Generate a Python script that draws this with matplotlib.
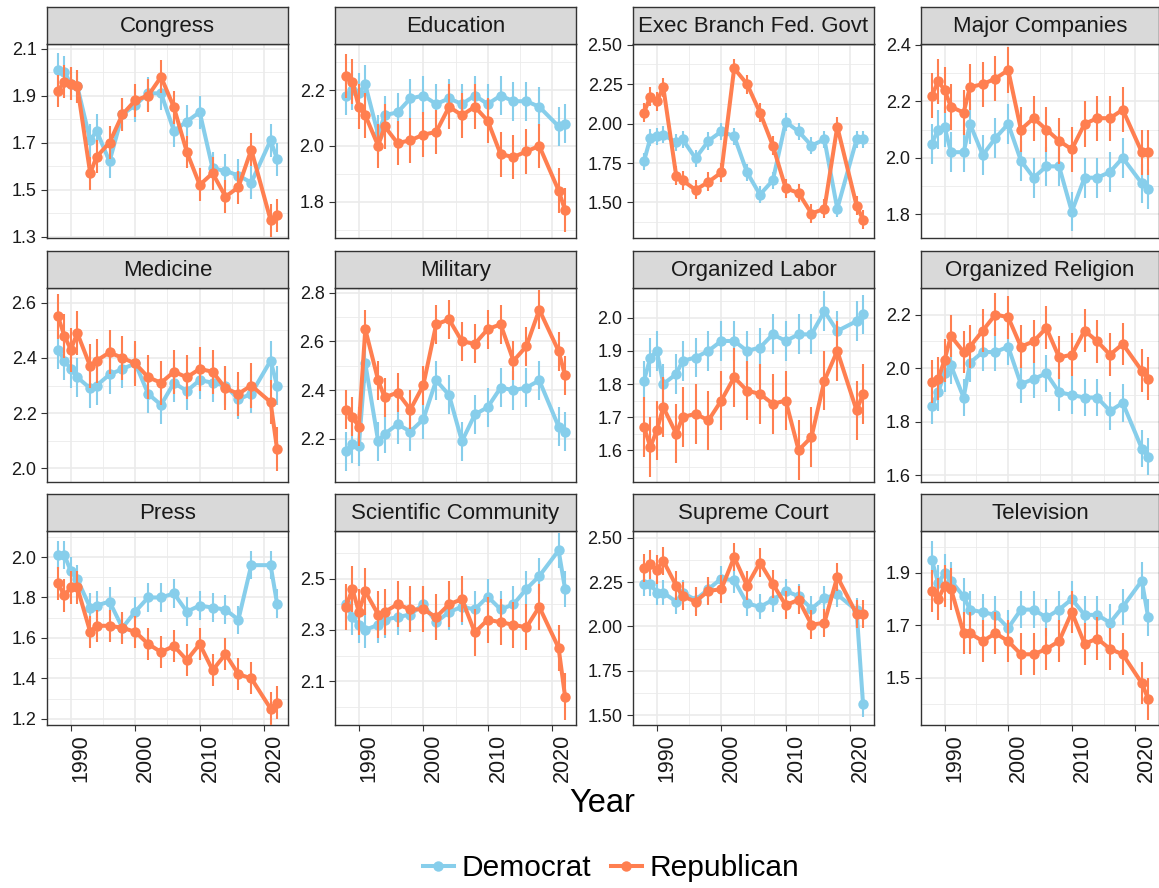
import matplotlib
matplotlib.use("Agg")
import matplotlib.pyplot as plt
from matplotlib.lines import Line2D
import numpy as np

plt.rcParams['font.family'] = ['Liberation Sans', 'DejaVu Sans']

years = [1988, 1989, 1990, 1991, 1993, 1994, 1996, 1998, 2000, 2002,
         2004, 2006, 2008, 2010, 2012, 2014, 2016, 2018, 2021, 2022]

# Mean confidence by party (Democrat / Republican)
congress_dem = [2.01, 2.00, 1.95, 1.94, 1.71, 1.75, 1.62, 1.82, 1.86, 1.91,
                1.91, 1.75, 1.79, 1.83, 1.59, 1.58, 1.56, 1.53, 1.71, 1.63]
congress_rep = [1.92, 1.96, 1.95, 1.94, 1.57, 1.64, 1.70, 1.82, 1.88, 1.90,
                1.98, 1.85, 1.66, 1.52, 1.57, 1.47, 1.51, 1.67, 1.37, 1.39]
education_dem = [2.18, 2.20, 2.19, 2.22, 2.04, 2.11, 2.12, 2.17, 2.18, 2.15,
                 2.17, 2.15, 2.18, 2.15, 2.18, 2.16, 2.16, 2.14, 2.07, 2.08]
education_rep = [2.25, 2.23, 2.14, 2.11, 2.00, 2.07, 2.01, 2.02, 2.04, 2.05,
                 2.14, 2.11, 2.14, 2.09, 1.97, 1.96, 1.98, 2.00, 1.84, 1.77]
exec_dem = [1.76, 1.91, 1.92, 1.93, 1.88, 1.90, 1.78, 1.89, 1.95, 1.92,
            1.69, 1.55, 1.64, 2.01, 1.95, 1.86, 1.90, 1.46, 1.90, 1.90]
exec_rep = [2.07, 2.17, 2.14, 2.23, 1.67, 1.64, 1.58, 1.63, 1.69, 2.35,
            2.25, 2.07, 1.86, 1.59, 1.56, 1.43, 1.46, 1.98, 1.48, 1.39]
companies_dem = [2.05, 2.10, 2.11, 2.02, 2.02, 2.12, 2.01, 2.07, 2.12, 1.99,
                 1.93, 1.97, 1.97, 1.81, 1.93, 1.93, 1.95, 2.00, 1.91, 1.89]
companies_rep = [2.22, 2.27, 2.24, 2.18, 2.16, 2.25, 2.26, 2.28, 2.31, 2.10,
                 2.14, 2.10, 2.06, 2.03, 2.12, 2.14, 2.14, 2.17, 2.02, 2.02]
medicine_dem = [2.43, 2.39, 2.36, 2.33, 2.29, 2.30, 2.34, 2.36, 2.38, 2.27,
                2.23, 2.31, 2.28, 2.32, 2.31, 2.30, 2.25, 2.27, 2.39, 2.30]
medicine_rep = [2.55, 2.48, 2.43, 2.49, 2.37, 2.39, 2.42, 2.40, 2.38, 2.33,
                2.31, 2.35, 2.33, 2.36, 2.35, 2.29, 2.27, 2.30, 2.24, 2.07]
military_dem = [2.15, 2.18, 2.17, 2.51, 2.19, 2.22, 2.26, 2.23, 2.28, 2.44,
                2.38, 2.19, 2.30, 2.33, 2.41, 2.40, 2.41, 2.44, 2.25, 2.23]
military_rep = [2.32, 2.29, 2.25, 2.65, 2.44, 2.37, 2.39, 2.32, 2.42, 2.67,
                2.69, 2.60, 2.59, 2.65, 2.67, 2.52, 2.58, 2.73, 2.56, 2.46]
labor_dem = [1.81, 1.88, 1.90, 1.80, 1.83, 1.87, 1.88, 1.90, 1.93, 1.93,
             1.90, 1.91, 1.95, 1.93, 1.95, 1.95, 2.02, 1.96, 1.99, 2.01]
labor_rep = [1.67, 1.61, 1.66, 1.73, 1.65, 1.70, 1.71, 1.69, 1.75, 1.82,
             1.78, 1.77, 1.74, 1.75, 1.60, 1.64, 1.81, 1.90, 1.72, 1.77]
religion_dem = [1.86, 1.91, 1.98, 2.01, 1.89, 2.02, 2.06, 2.06, 2.08, 1.94,
                1.96, 1.98, 1.91, 1.90, 1.89, 1.89, 1.84, 1.87, 1.70, 1.67]
religion_rep = [1.95, 1.96, 2.03, 2.12, 2.06, 2.08, 2.14, 2.20, 2.19, 2.08,
                2.10, 2.15, 2.04, 2.05, 2.14, 2.10, 2.05, 2.09, 1.99, 1.96]
press_dem = [2.01, 2.01, 1.93, 1.89, 1.75, 1.76, 1.78, 1.65, 1.73, 1.80,
             1.80, 1.82, 1.73, 1.76, 1.75, 1.74, 1.69, 1.96, 1.96, 1.77]
press_rep = [1.87, 1.81, 1.85, 1.85, 1.63, 1.66, 1.66, 1.65, 1.63, 1.57,
             1.53, 1.56, 1.49, 1.57, 1.44, 1.52, 1.42, 1.40, 1.25, 1.28]
science_dem = [2.40, 2.35, 2.32, 2.30, 2.32, 2.34, 2.35, 2.36, 2.40, 2.33,
               2.37, 2.39, 2.38, 2.43, 2.38, 2.40, 2.46, 2.51, 2.61, 2.46]
science_rep = [2.39, 2.46, 2.37, 2.45, 2.36, 2.37, 2.40, 2.38, 2.38, 2.35,
               2.40, 2.42, 2.29, 2.34, 2.33, 2.32, 2.31, 2.39, 2.23, 2.04]
court_dem = [2.24, 2.24, 2.19, 2.19, 2.14, 2.19, 2.15, 2.21, 2.27, 2.26,
             2.13, 2.11, 2.15, 2.20, 2.17, 2.10, 2.16, 2.18, 2.09, 1.56]
court_rep = [2.33, 2.35, 2.32, 2.37, 2.23, 2.17, 2.14, 2.20, 2.21, 2.39,
             2.23, 2.36, 2.24, 2.12, 2.15, 2.01, 2.02, 2.28, 2.07, 2.07]
tv_dem = [1.95, 1.86, 1.90, 1.87, 1.81, 1.76, 1.75, 1.74, 1.69, 1.76,
          1.76, 1.73, 1.76, 1.80, 1.74, 1.74, 1.71, 1.77, 1.87, 1.73]
tv_rep = [1.83, 1.80, 1.85, 1.84, 1.67, 1.67, 1.64, 1.67, 1.64, 1.59,
          1.59, 1.61, 1.64, 1.75, 1.63, 1.65, 1.61, 1.59, 1.48, 1.42]

# Half-width of the confidence interval for each panel (Democrat, Republican)
ci_dem = [0.07, 0.07, 0.055, 0.07, 0.07, 0.08, 0.06, 0.07, 0.07, 0.07, 0.07, 0.07]
ci_rep = [0.07, 0.08, 0.06, 0.08, 0.08, 0.08, 0.09, 0.08, 0.08, 0.09, 0.08, 0.08]

titles = ["Congress", "Education", "Exec Branch Fed. Govt", "Major Companies",
          "Medicine", "Military", "Organized Labor", "Organized Religion",
          "Press", "Scientific Community", "Supreme Court", "Television"]
dem_series = [congress_dem, education_dem, exec_dem, companies_dem,
              medicine_dem, military_dem, labor_dem, religion_dem,
              press_dem, science_dem, court_dem, tv_dem]
rep_series = [congress_rep, education_rep, exec_rep, companies_rep,
              medicine_rep, military_rep, labor_rep, religion_rep,
              press_rep, science_rep, court_rep, tv_rep]

# Free y scales: limits, first break, step, decimals
y_limits = [(1.294, 2.12), (1.67, 2.365), (1.275, 2.504), (1.717, 2.402),
            (1.951, 2.653), (2.023, 2.819), (1.504, 2.09), (1.575, 2.299),
            (1.169, 2.129), (1.929, 2.686), (1.444, 2.538), (1.321, 2.059)]
y_breaks = [(1.3, 0.2, 1), (1.8, 0.2, 1), (1.5, 0.25, 2), (1.8, 0.2, 1),
            (2.0, 0.2, 1), (2.2, 0.2, 1), (1.6, 0.1, 1), (1.6, 0.2, 1),
            (1.2, 0.2, 1), (2.1, 0.2, 1), (1.5, 0.25, 2), (1.5, 0.2, 1)]

DEM_COL = "#87CEEB"
REP_COL = "#FF7F50"
GRID = "#EBEBEB"
FRAME = "#333333"
LW = 2.9
MS = 7.5

W, H = 1159, 888
fig = plt.figure(figsize=(W / 100, H / 100), dpi=100)

col_left = [47, 335, 633, 921]
col_width = [241, 241, 241, 238]
row_top = [44, 288, 531]
panel_h = 194
strip_h = 37

x_lo, x_hi = 1986.3, 2023.7

for i, title in enumerate(titles):
    r, c = divmod(i, 4)
    L, T, Wd = col_left[c], row_top[r], col_width[c]
    ax = fig.add_axes([L / W, 1 - (T + panel_h) / H, Wd / W, panel_h / H])
    ax.set_facecolor("white")

    lo, hi = y_limits[i]
    start, step, dec = y_breaks[i]
    majors = np.arange(start, hi + 1e-9, step)
    minors = np.arange(start - step / 2, hi + 1e-9, step)
    minors = minors[(minors > lo) & (minors < hi)]

    for m in minors:
        ax.axhline(m, color=GRID, lw=0.6, zorder=0)
    for m in majors:
        ax.axhline(m, color=GRID, lw=1.2, zorder=0)
    for xv in (1995, 2005, 2015):
        ax.axvline(xv, color=GRID, lw=0.6, zorder=0)
    for xv in (1990, 2000, 2010, 2020):
        ax.axvline(xv, color=GRID, lw=1.2, zorder=0)

    d = np.array(dem_series[i])
    p = np.array(rep_series[i])
    ax.plot(years, d, color=DEM_COL, lw=LW, zorder=2, solid_capstyle="butt")
    ax.plot(years, p, color=REP_COL, lw=LW, zorder=3, solid_capstyle="butt")
    ax.vlines(years, d - ci_dem[i], d + ci_dem[i], color=DEM_COL, lw=1.5, zorder=2)
    ax.vlines(years, p - ci_rep[i], p + ci_rep[i], color=REP_COL, lw=1.5, zorder=3)
    ax.plot(years, d, "o", color=DEM_COL, ms=MS, mec="none", zorder=2.5)
    ax.plot(years, p, "o", color=REP_COL, ms=MS, mec="none", zorder=3.5)

    ax.set_xlim(x_lo, x_hi)
    ax.set_ylim(lo, hi)
    ax.set_yticks(majors)
    ax.set_yticklabels([f"{m:.{dec}f}" for m in majors])
    ax.set_xticks([1990, 2000, 2010, 2020])
    ax.tick_params(axis="y", length=4, width=0.8, color=FRAME,
                   labelsize=13, labelcolor="#1a1a1a", pad=3.5)
    if r == 2:
        ax.tick_params(axis="x", length=4, width=0.8, color=FRAME,
                       labelsize=15.5, labelcolor="#1a1a1a", pad=2.5,
                       labelrotation=90)
        for lab in ax.get_xticklabels():
            lab.set_horizontalalignment("left")
    else:
        ax.tick_params(axis="x", length=0, labelbottom=False)
    for s in ax.spines.values():
        s.set_color(FRAME)
        s.set_linewidth(1.0)

    sax = fig.add_axes([L / W, 1 - T / H, Wd / W, strip_h / H])
    sax.set_facecolor("#D9D9D9")
    sax.set_xticks([])
    sax.set_yticks([])
    for s in sax.spines.values():
        s.set_color(FRAME)
        s.set_linewidth(1.0)
    sax.text(0.5, 0.47, title, ha="center", va="center", fontsize=16,
             color="#1a1a1a", transform=sax.transAxes)

fig.text(602 / W, 1 - 803 / H, "Year", ha="center", va="center",
         fontsize=23.5, color="black")

handles = [Line2D([], [], color=DEM_COL, lw=LW, marker="o", ms=MS, mec="none"),
           Line2D([], [], color=REP_COL, lw=LW, marker="o", ms=MS, mec="none")]
fig.legend(handles, ["Democrat", "Republican"], loc="center",
           bbox_to_anchor=(611 / W, 1 - 868 / H), ncol=2, frameon=False,
           fontsize=21.5, handlelength=1.05, handletextpad=0.25,
           columnspacing=0.65)

fig.savefig("out.png", dpi=100)
